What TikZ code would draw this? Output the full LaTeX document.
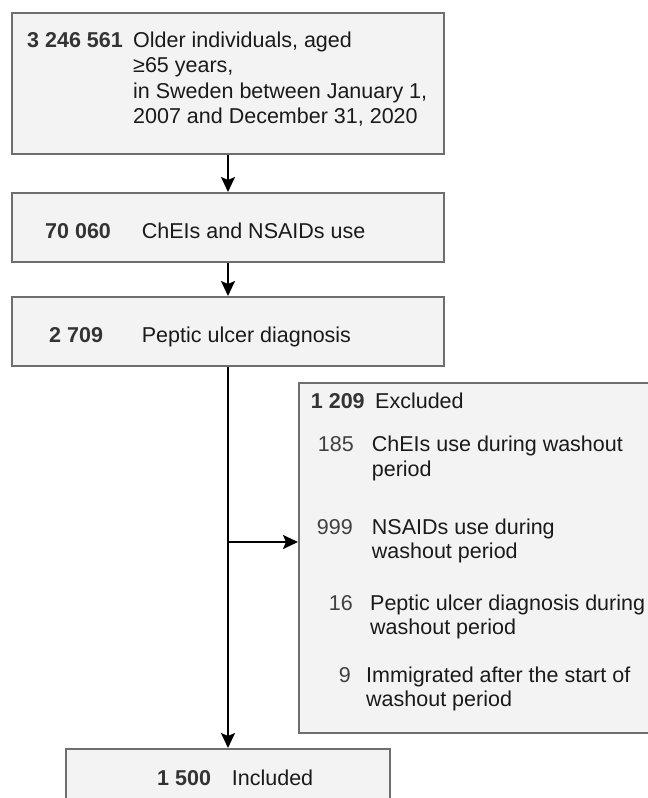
\documentclass[tikz,border=0pt]{standalone}
\usepackage{fontspec}
\setmainfont{Liberation Sans}
\usetikzlibrary{arrows.meta}
\definecolor{boxfill}{HTML}{F3F3F3}
\definecolor{boxline}{HTML}{6E6E6E}
\definecolor{numcol}{HTML}{333333}
\definecolor{txtcol}{HTML}{1A1A1A}
\definecolor{subnum}{HTML}{404040}
\begin{document}
\begin{tikzpicture}[x=1pt,y=-1pt,
 box/.style={draw=boxline, line width=2pt, fill=boxfill, rectangle, inner sep=0pt},
 num/.style={font=\fontsize{21.5}{25.5}\selectfont\bfseries, text=numcol, inner sep=0pt, anchor=base west},
 lab/.style={font=\fontsize{21.5}{25.5}\selectfont, text=txtcol, inner sep=0pt, anchor=base west},
 subn/.style={font=\fontsize{21.5}{25.5}\selectfont, text=subnum, inner sep=0pt, anchor=base east},
 conn/.style={line width=2pt, -{Stealth[length=15pt,width=14pt,inset=3pt]}}
]
\useasboundingbox (0,0) rectangle (648,798);
\clip (0,0) rectangle (648,798);

% boxes
\node[box, minimum width=432pt, minimum height=141pt] (b1) at (228,83.5) {};
\node[box, minimum width=432pt, minimum height=69pt] (b2) at (228,227.5) {};
\node[box, minimum width=432pt, minimum height=69pt] (b3) at (228,331.5) {};
\node[box, minimum width=370pt, minimum height=350pt] (ex) at (484,558) {};
\node[box, minimum width=324pt, minimum height=90pt] (b5) at (228,794) {};

% box 1 text
\node[num] (n1) at (27,47) {3 246 561};
\node[lab] (t1a) at (133,47) {Older individuals, aged};
\node[lab] (t1b) at (133,72.5) {≥65 years,};
\node[lab] (t1c) at (133,98) {in Sweden between January 1,};
\node[lab] (t1d) at (133,123.5) {2007 and December 31, 2020};

% box 2 text
\node[num] (n2) at (45,238) {70 060};
\node[lab] (t2) at (141.7,238) {ChEIs and NSAIDs use};

% box 3 text
\node[num] (n3) at (49,342) {2 709};
\node[lab] (t3) at (141.7,342) {Peptic ulcer diagnosis};

% excluded box text
\node[num] (nx) at (310.7,408) {1 209};
\node[lab] (tx) at (375,408) {Excluded};
\node[subn] (s1) at (354,451) {185};
\node[lab] (s1a) at (371.7,451) {ChEIs use during washout};
\node[lab] (s1b) at (371.7,476) {period};
\node[subn] (s2) at (353,534) {999};
\node[lab] (s2a) at (371.7,534) {NSAIDs use during};
\node[lab] (s2b) at (371.7,558) {washout period};
\node[subn] (s3) at (353,610) {16};
\node[lab] (s3a) at (370,610) {Peptic ulcer diagnosis during};
\node[lab] (s3b) at (370,634) {washout period};
\node[subn] (s4) at (351,682) {9};
\node[lab] (s4a) at (366,682) {Immigrated after the start of};
\node[lab] (s4b) at (366,706) {washout period};

% included box text
\node[num] (n5) at (157,785) {1 500};
\node[lab] (t5) at (231.7,785) {Included};

% connectors
\draw[conn] (b1) -- (b2);
\draw[conn] (b2) -- (b3);
\draw[conn] (b3) -- (b5);
\coordinate (j) at (228,542);
\draw[conn] (j) -- (ex.west |- j);
\end{tikzpicture}
\end{document}
